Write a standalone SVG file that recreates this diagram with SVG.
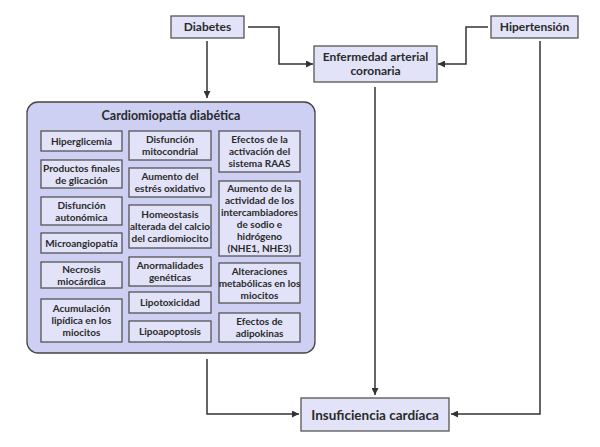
<svg xmlns="http://www.w3.org/2000/svg" width="600" height="447" viewBox="0 0 600 447">
<defs>
<marker id="ah" viewBox="0 0 10 10" refX="10" refY="5" markerWidth="7" markerHeight="7" markerUnits="userSpaceOnUse" orient="auto">
<path d="M0,0 L10,5 L0,10 Z" fill="#333"/>
</marker>
<style>
.box{fill:#e2e3f8;stroke:#555;stroke-width:1.3}
.outer{fill:#cdcff3;stroke:#444;stroke-width:1.3}
.t{font-family:Lato,"Open Sans","Liberation Sans",sans-serif;font-weight:bold;font-size:10px;fill:#2a2a2a;text-anchor:middle}
.tm{font-family:Lato,"Open Sans","Liberation Sans",sans-serif;font-weight:bold;font-size:12px;fill:#2a2a2a;text-anchor:middle}
.tt{font-family:Lato,"Open Sans","Liberation Sans",sans-serif;font-weight:bold;font-size:12.5px;fill:#2a2a2a;text-anchor:middle}
.tl{font-family:Lato,"Open Sans","Liberation Sans",sans-serif;font-weight:bold;font-size:13.5px;fill:#2a2a2a;text-anchor:middle}
.c{fill:none;stroke:#333;stroke-width:1.5;marker-end:url(#ah)}
</style>
</defs>
<rect width="600" height="447" fill="#fff"/>

<g id="connectors">
<path class="c" d="M248,27 H279 V64 H313"/>
<path class="c" d="M488,27 H466 V64 H438"/>
<path class="c" d="M207,41 V98"/>
<path class="c" d="M375,87 V395"/>
<path class="c" d="M540,41 V414 H451"/>
<path class="c" d="M207,359 V414 H299"/>
</g>

<g id="diabetes">
<rect class="box" x="171" y="16" width="73" height="22"/>
<text class="tm" x="207.5" y="31">Diabetes</text>
</g>
<g id="hipertension">
<rect class="box" x="491" y="16" width="87" height="22"/>
<text class="tm" x="534.5" y="31">Hipertensión</text>
</g>
<g id="enfermedad">
<rect class="box" x="314" y="46" width="123" height="36"/>
<text class="tm" x="375.5" y="61">Enfermedad arterial</text>
<text class="tm" x="375.5" y="75">coronaria</text>
</g>
<g id="insuficiencia">
<rect class="box" x="301" y="398" width="148" height="33"/>
<text class="tl" x="375" y="419.5">Insuficiencia cardíaca</text>
</g>

<g id="cardiomiopatia">
<rect class="outer" x="27" y="102" width="288" height="251" rx="11"/>
<text class="tt" x="171" y="120">Cardiomiopatía diabética</text>
</g>

<g id="hiperglicemia"><rect class="box" x="41" y="131" width="81" height="20"/><text class="t" x="81.5" y="144.5">Hiperglicemia</text></g>
<g id="productos"><rect class="box" x="41" y="160" width="81" height="28"/><text class="t" x="81.5" y="171.5">Productos finales</text><text class="t" x="81.5" y="183.5">de glicación</text></g>
<g id="disf-autonomica"><rect class="box" x="41" y="197" width="81" height="28"/><text class="t" x="81.5" y="208.5">Disfunción</text><text class="t" x="81.5" y="220.5">autonómica</text></g>
<g id="microangiopatia"><rect class="box" x="41" y="233" width="81" height="20"/><text class="t" x="81.5" y="246.5">Microangiopatía</text></g>
<g id="necrosis"><rect class="box" x="41" y="262" width="81" height="26"/><text class="t" x="81.5" y="272.5">Necrosis</text><text class="t" x="81.5" y="284.5">miocárdica</text></g>
<g id="acumulacion"><rect class="box" x="41" y="299" width="81" height="43"/><text class="t" x="81.5" y="312">Acumulación</text><text class="t" x="81.5" y="324">lipídica en los</text><text class="t" x="81.5" y="336">miocitos</text></g>

<g id="disf-mitocondrial"><rect class="box" x="129" y="131" width="82" height="29"/><text class="t" x="170" y="143">Disfunción</text><text class="t" x="170" y="155">mitocondrial</text></g>
<g id="estres"><rect class="box" x="129" y="168" width="82" height="29"/><text class="t" x="170" y="180">Aumento del</text><text class="t" x="170" y="192">estrés oxidativo</text></g>
<g id="homeostasis"><rect class="box" x="129" y="205" width="82" height="43"/><text class="t" x="170" y="218">Homeostasis</text><text class="t" x="170" y="230">alterada del calcio</text><text class="t" x="170" y="242">del cardiomiocito</text></g>
<g id="anormalidades"><rect class="box" x="129" y="257" width="82" height="29"/><text class="t" x="170" y="269">Anormalidades</text><text class="t" x="170" y="281">genéticas</text></g>
<g id="lipotoxicidad"><rect class="box" x="129" y="292" width="82" height="21"/><text class="t" x="170" y="306">Lipotoxicidad</text></g>
<g id="lipoapoptosis"><rect class="box" x="129" y="321" width="82" height="21"/><text class="t" x="170" y="335">Lipoapoptosis</text></g>

<g id="raas"><rect class="box" x="219" y="131" width="81" height="41"/><text class="t" x="259.5" y="143">Efectos de la</text><text class="t" x="259.5" y="155">activación del</text><text class="t" x="259.5" y="167">sistema RAAS</text></g>
<g id="intercambiadores"><rect class="box" x="219" y="181" width="81" height="75"/><text class="t" x="259.5" y="192">Aumento de la</text><text class="t" x="259.5" y="204">actividad de los</text><text class="t" x="259.5" y="216">intercambiadores</text><text class="t" x="259.5" y="228">de sodio e</text><text class="t" x="259.5" y="240">hidrógeno</text><text class="t" x="259.5" y="252">(NHE1, NHE3)</text></g>
<g id="alteraciones"><rect class="box" x="219" y="263" width="81" height="40"/><text class="t" x="259.5" y="274.5">Alteraciones</text><text class="t" x="259.5" y="286.5">metabólicas en los</text><text class="t" x="259.5" y="298.5">miocitos</text></g>
<g id="adipokinas"><rect class="box" x="219" y="313" width="81" height="29"/><text class="t" x="259.5" y="325">Efectos de</text><text class="t" x="259.5" y="337">adipokinas</text></g>
</svg>
